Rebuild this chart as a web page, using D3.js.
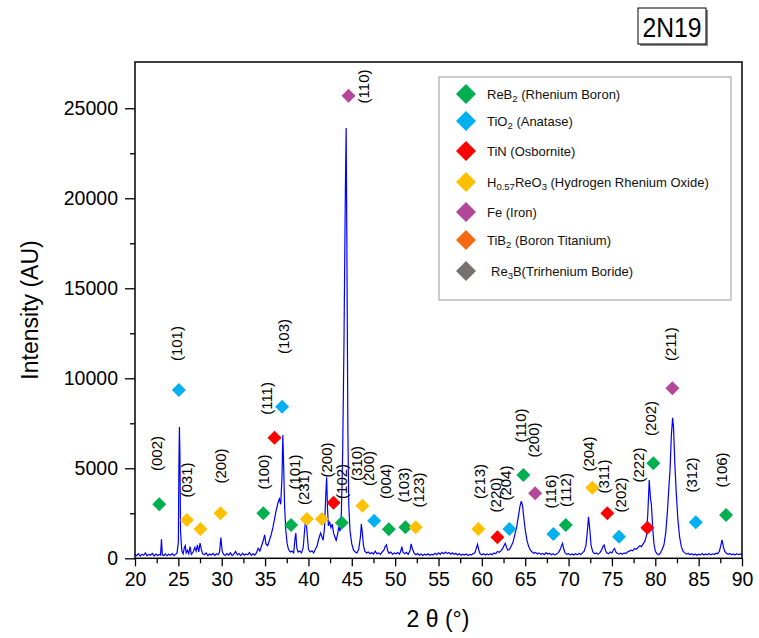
<!DOCTYPE html>
<html>
<head>
<meta charset="utf-8">
<script src="https://cdn.jsdelivr.net/npm/d3@7"></script>
<style>
  body { margin: 0; background: #fff; }
  svg { font-family: "Liberation Sans", Arial, sans-serif; }
</style>
</head>
<body>
<div id="chart"></div>
<script>
// XRD pattern of sample 2N19, [2theta, intensity]
const spectrum = [
  [20.0,210],[20.2,150],[20.4,260],[20.6,120],[20.8,230],[21.0,170],[21.2,300],[21.4,140],[21.6,220],[21.8,180],
  [22.0,270],[22.2,130],[22.4,240],[22.6,160],[22.8,210],[22.95,180],[23.05,1050],[23.15,200],[23.3,150],[23.5,250],
  [23.7,140],[23.9,220],[24.1,170],[24.3,260],[24.5,150],[24.7,230],[24.85,300],[25.0,900],[25.06,5000],[25.12,7300],
  [25.18,5850],[25.25,1500],[25.4,400],[25.55,250],[25.7,600],[25.8,700],[25.9,300],[26.05,450],[26.2,250],[26.35,650],
  [26.5,220],[26.7,350],[26.9,600],[27.05,400],[27.2,750],[27.35,350],[27.5,850],[27.65,500],[27.8,250],[28.0,200],
  [28.2,300],[28.4,150],[28.6,240],[28.8,180],[29.0,270],[29.2,160],[29.4,250],[29.6,200],[29.75,350],[29.9,1150],
  [30.05,400],[30.2,220],[30.4,160],[30.6,260],[30.8,180],[31.0,300],[31.2,150],[31.4,230],[31.6,380],[31.8,190],
  [32.0,260],[32.2,150],[32.4,280],[32.6,170],[32.8,240],[33.0,200],[33.2,320],[33.4,160],[33.6,250],[33.8,180],
  [34.0,300],[34.2,550],[34.4,400],[34.6,700],[34.8,1000],[34.95,1300],[35.1,800],[35.3,700],[35.5,1000],[35.7,1300],
  [35.9,1700],[36.1,2200],[36.3,2700],[36.5,3100],[36.65,3300],[36.8,3000],[36.95,4500],[37.05,6850],[37.15,5000],[37.25,2900],
  [37.4,1500],[37.55,800],[37.7,500],[37.9,350],[38.1,400],[38.3,300],[38.45,1100],[38.55,1400],[38.65,600],[38.8,350],
  [39.0,400],[39.2,300],[39.4,600],[39.55,1500],[39.7,2300],[39.85,1400],[40.0,500],[40.2,350],[40.4,420],[40.6,300],
  [40.8,500],[41.0,700],[41.2,1100],[41.4,1400],[41.55,1200],[41.7,1000],[41.85,1700],[42.0,3500],[42.1,4500],[42.2,2800],
  [42.3,1800],[42.45,2000],[42.6,1700],[42.75,1900],[42.9,1400],[43.05,1200],[43.2,1000],[43.35,1300],[43.5,1750],[43.65,1500],
  [43.8,2500],[43.95,5900],[44.1,12000],[44.25,20000],[44.35,23900],[44.45,16000],[44.55,7000],[44.65,3000],[44.8,1500],[45.0,800],
  [45.2,450],[45.4,350],[45.6,300],[45.8,500],[46.0,1200],[46.1,1900],[46.2,1500],[46.35,700],[46.5,400],[46.7,300],
  [46.9,350],[47.1,250],[47.3,320],[47.5,230],[47.7,400],[47.9,250],[48.1,300],[48.3,220],[48.5,350],[48.7,450],
  [48.85,650],[49.0,740],[49.15,400],[49.3,280],[49.5,350],[49.7,220],[49.9,300],[50.1,250],[50.3,320],[50.5,230],
  [50.65,400],[50.77,650],[50.9,350],[51.1,250],[51.3,330],[51.5,220],[51.7,400],[51.85,800],[52.0,500],[52.2,280],
  [52.4,200],[52.6,260],[52.8,170],[53.0,240],[53.2,160],[53.4,230],[53.6,180],[53.8,250],[54.0,170],[54.2,220],
  [54.4,190],[54.6,280],[54.8,200],[55.0,300],[55.2,220],[55.4,330],[55.6,250],[55.8,350],[56.0,260],[56.2,320],
  [56.4,230],[56.6,300],[56.8,210],[57.0,280],[57.2,190],[57.4,250],[57.6,170],[57.8,230],[58.0,180],[58.2,240],
  [58.4,160],[58.6,220],[58.8,190],[59.0,250],[59.2,300],[59.35,550],[59.5,780],[59.65,450],[59.8,250],[60.0,200],
  [60.2,260],[60.4,180],[60.6,240],[60.8,190],[61.0,260],[61.2,200],[61.4,300],[61.6,250],[61.8,380],[62.0,330],
  [62.2,420],[62.4,550],[62.55,700],[62.7,830],[62.85,600],[63.0,450],[63.2,500],[63.4,700],[63.6,900],[63.8,1300],
  [64.0,1700],[64.2,2300],[64.4,2900],[64.55,3180],[64.7,2900],[64.85,2200],[65.0,1600],[65.2,1000],[65.4,650],[65.6,450],
  [65.8,350],[66.0,280],[66.2,330],[66.4,240],[66.6,300],[66.8,220],[67.0,270],[67.2,200],[67.4,320],[67.6,230],
  [67.8,280],[68.0,200],[68.2,260],[68.4,190],[68.6,240],[68.8,300],[69.0,450],[69.15,650],[69.3,830],[69.45,500],
  [69.6,300],[69.8,220],[70.0,260],[70.2,190],[70.4,240],[70.6,180],[70.8,250],[71.0,200],[71.2,270],[71.4,210],
  [71.6,300],[71.8,400],[72.0,700],[72.15,1400],[72.3,2300],[72.45,1600],[72.6,700],[72.8,350],[73.0,250],[73.2,300],
  [73.4,220],[73.6,300],[73.8,450],[73.95,650],[74.1,740],[74.25,450],[74.4,300],[74.6,250],[74.8,350],[75.0,300],
  [75.15,450],[75.3,550],[75.45,350],[75.6,280],[75.8,230],[76.0,280],[76.2,220],[76.4,300],[76.6,260],[76.8,350],
  [77.0,400],[77.2,450],[77.4,420],[77.6,550],[77.8,500],[78.0,600],[78.2,700],[78.4,650],[78.6,800],[78.8,950],
  [79.0,1300],[79.15,2600],[79.3,4350],[79.45,3300],[79.55,3000],[79.7,1700],[79.85,800],[80.0,400],[80.2,250],[80.4,200],
  [80.6,300],[80.8,500],[81.0,750],[81.2,1400],[81.4,2600],[81.55,3800],[81.7,4900],[81.85,6800],[82.0,7800],[82.1,7300],
  [82.25,5300],[82.4,3800],[82.6,2200],[82.8,1200],[83.0,650],[83.2,400],[83.4,300],[83.6,230],[83.8,280],[84.0,200],
  [84.2,260],[84.4,180],[84.6,240],[84.8,170],[85.0,230],[85.2,190],[85.4,260],[85.6,180],[85.8,240],[86.0,200],
  [86.2,270],[86.4,190],[86.6,250],[86.8,210],[87.0,280],[87.2,250],[87.4,400],[87.55,700],[87.7,1020],[87.85,650],
  [88.0,400],[88.2,280],[88.4,220],[88.6,270],[88.8,190],[89.0,240],[89.2,180],[89.4,260],[89.6,200],[89.8,240],[90.0,190]
];

// phases shown in the legend
const phases = [
  { key: "ReB2",  color: "#00b050", parts: [["ReB"], ["2", "sub"], [" (Rhenium Boron)"]] },
  { key: "TiO2",  color: "#00b0f0", parts: [["TiO"], ["2", "sub"], [" (Anatase)"]] },
  { key: "TiN",   color: "#ff0000", parts: [["TiN (Osbornite)"]] },
  { key: "HReO3", color: "#ffc000", parts: [["H"], ["0.57", "sub"], ["ReO"], ["3", "sub"], [" (Hydrogen  Rhenium Oxide)"]] },
  { key: "Fe",    color: "#b4479a", parts: [["Fe (Iron)"]] },
  { key: "TiB2",  color: "#f56b13", parts: [["TiB"], ["2", "sub"], [" (Boron Titanium)"]] },
  { key: "Re3B",  color: "#767171", parts: [["Re"], ["3", "sub"], ["B(Trirhenium Boride)"]] }
];

// diamond markers: [phase, 2theta, intensity]
const markers = [
  ["ReB2",22.8,3000],["ReB2",34.8,2500],["ReB2",38.0,1850],["ReB2",43.85,1980],["ReB2",49.27,1610],
  ["ReB2",51.19,1720],["ReB2",64.79,4630],["ReB2",69.68,1850],["ReB2",79.78,5280],["ReB2",88.16,2400],
  ["TiO2",25.06,9350],["TiO2",36.97,8420],["TiO2",47.58,2090],["TiO2",63.18,1630],["TiO2",68.25,1350],
  ["TiO2",75.82,1200],["TiO2",84.67,2000],
  ["TiN",36.09,6700],["TiN",42.9,3090],["TiN",61.8,1170],["TiN",74.47,2500],["TiN",79.09,1700],
  ["HReO3",25.98,2130],["HReO3",27.55,1630],["HReO3",29.86,2500],["HReO3",39.82,2180],["HReO3",41.55,2180],
  ["HReO3",46.23,2920],["HReO3",52.38,1720],["HReO3",59.6,1630],["HReO3",72.74,3920],
  ["Fe",44.62,25700],["Fe",66.14,3610],["Fe",81.97,9440]
];

// Miller index labels: [text, 2theta, intensity at label centre]
const hklLabels = [
  ["(002)",22.52,5820],["(101)",24.83,11930],["(031)",25.98,4350],["(200)",29.82,5130],["(100)",34.81,4790],
  ["(111)",35.21,8880],["(103)",37.09,12320],["(101)",38.35,4790],["(231)",39.43,3930],["(200)",42.12,5460],
  ["(102)",43.85,4270],["(110)",46.34,26210],["(310)",45.58,5270],["(200)",46.92,4990],["(004)",48.84,4270],
  ["(103)",50.95,4070],["(123)",52.68,3790],["(213)",59.72,4270],["(220)",61.53,3520],["(204)",62.68,4180],
  ["(110)",64.41,7380],["(200)",65.94,6570],["(116)",67.87,3710],["(112)",69.6,3790],["(204)",72.28,5790],
  ["(311)",74.01,4540],["(202)",75.94,3520],["(222)",78.05,5180],["(202)",79.48,7770],["(211)",81.7,11900],
  ["(312)",84.2,4630],["(106)",87.66,4910]
];

const xMajor = d3.range(20, 91, 5);
const xMinor = d3.range(22.5, 90, 5);
const yMajor = [0, 5000, 10000, 15000, 20000, 25000];
const yMinor = [2500, 7500, 12500, 17500, 22500];

const W = 759, H = 638;
const svg = d3.select("#chart").append("svg")
    .attr("width", W)
    .attr("height", H);

const x = d3.scaleLinear().domain([20, 90]).range([135, 742]);
const y = d3.scaleLinear().domain([0, 27570]).range([558.3, 62]);

// axes (ticks point outward)
const gx = svg.append("g").attr("transform", "translate(0,558.3)");
gx.call(d3.axisBottom(x).tickValues(xMajor).tickSize(8).tickPadding(6).tickFormat(d3.format("d")));
gx.append("g").call(d3.axisBottom(x).tickValues(xMinor).tickSize(5).tickFormat(""));

const gy = svg.append("g").attr("transform", "translate(135,0)");
gy.call(d3.axisLeft(y).tickValues(yMajor).tickSize(10).tickPadding(7).tickFormat(d3.format("d")));
gy.append("g").call(d3.axisLeft(y).tickValues(yMinor).tickSize(5).tickFormat(""));

svg.selectAll(".domain").remove();
svg.selectAll(".tick line").attr("stroke", "#000").attr("stroke-width", 1.3);
svg.selectAll(".tick text")
    .attr("fill", "#000")
    .style("font-size", "19.5px");

// spectrum
svg.append("path")
    .datum(spectrum)
    .attr("fill", "none")
    .attr("stroke", "#0000ff")
    .attr("stroke-width", 1.2)
    .attr("d", d3.line().x(d => x(d[0])).y(d => y(d[1])));

// frame
svg.append("rect")
    .attr("x", 135).attr("y", 62)
    .attr("width", 607).attr("height", 496.3)
    .attr("fill", "none")
    .attr("stroke", "#000")
    .attr("stroke-width", 1.5);

const colorOf = {};
phases.forEach(p => colorOf[p.key] = p.color);

const diamond = r => `M0,${-r}L${r},0L0,${r}L${-r},0Z`;

// markers
svg.append("g")
    .selectAll("path")
    .data(markers)
    .enter()
    .append("path")
      .attr("transform", d => `translate(${x(d[1])},${y(d[2])})`)
      .attr("d", diamond(7))
      .attr("fill", d => colorOf[d[0]]);

// hkl labels
svg.append("g")
    .selectAll("text")
    .data(hklLabels)
    .enter()
    .append("text")
      .attr("transform", d => `translate(${x(d[1])},${y(d[2])}) rotate(-90)`)
      .attr("text-anchor", "middle")
      .attr("dominant-baseline", "central")
      .style("font-size", "15px")
      .text(d => d[0]);

// legend
const legend = svg.append("g");
legend.append("rect")
    .attr("x", 439).attr("y", 77)
    .attr("width", 292).attr("height", 223)
    .attr("fill", "#fff")
    .attr("stroke", "#999")
    .attr("stroke-width", 1);

const rowY = [94, 121, 151, 182, 212, 240, 271];
phases.forEach((p, i) => {
    legend.append("path")
        .attr("transform", `translate(466,${rowY[i]})`)
        .attr("d", diamond(10))
        .attr("fill", p.color);
    const t = legend.append("text")
        .attr("x", p.key === "Re3B" ? 491 : 487)
        .attr("y", rowY[i])
        .attr("dominant-baseline", "central")
        .style("font-size", "13px")
        .attr("fill", "#111");
    p.parts.forEach(part => {
        if (part[1] === "sub") {
            t.append("tspan").attr("dy", 4).style("font-size", "9.5px").text(part[0]);
        } else {
            const s = t.append("tspan").text(part[0]);
            if (t.selectAll("tspan").size() > 1) s.attr("dy", -4);
        }
    });
});

// axis titles
svg.append("text")
    .attr("transform", "translate(30,310) rotate(-90)")
    .attr("text-anchor", "middle")
    .attr("dominant-baseline", "central")
    .style("font-size", "23px")
    .text("Intensity (AU)");

svg.append("text")
    .attr("x", 438).attr("y", 619)
    .attr("text-anchor", "middle")
    .attr("dominant-baseline", "central")
    .style("font-size", "23px")
    .text("2 θ (°)");

// sample tag
svg.append("rect")
    .attr("x", 640).attr("y", 10)
    .attr("width", 68).attr("height", 36)
    .attr("fill", "#888");
svg.append("rect")
    .attr("x", 638).attr("y", 8)
    .attr("width", 68).attr("height", 36)
    .attr("fill", "#fff")
    .attr("stroke", "#000")
    .attr("stroke-width", 1);
svg.append("text")
    .attr("x", 672).attr("y", 27)
    .attr("text-anchor", "middle")
    .attr("dominant-baseline", "central")
    .attr("textLength", 59)
    .attr("lengthAdjust", "spacingAndGlyphs")
    .style("font-size", "28px")
    .text("2N19");
</script>
</body>
</html>
